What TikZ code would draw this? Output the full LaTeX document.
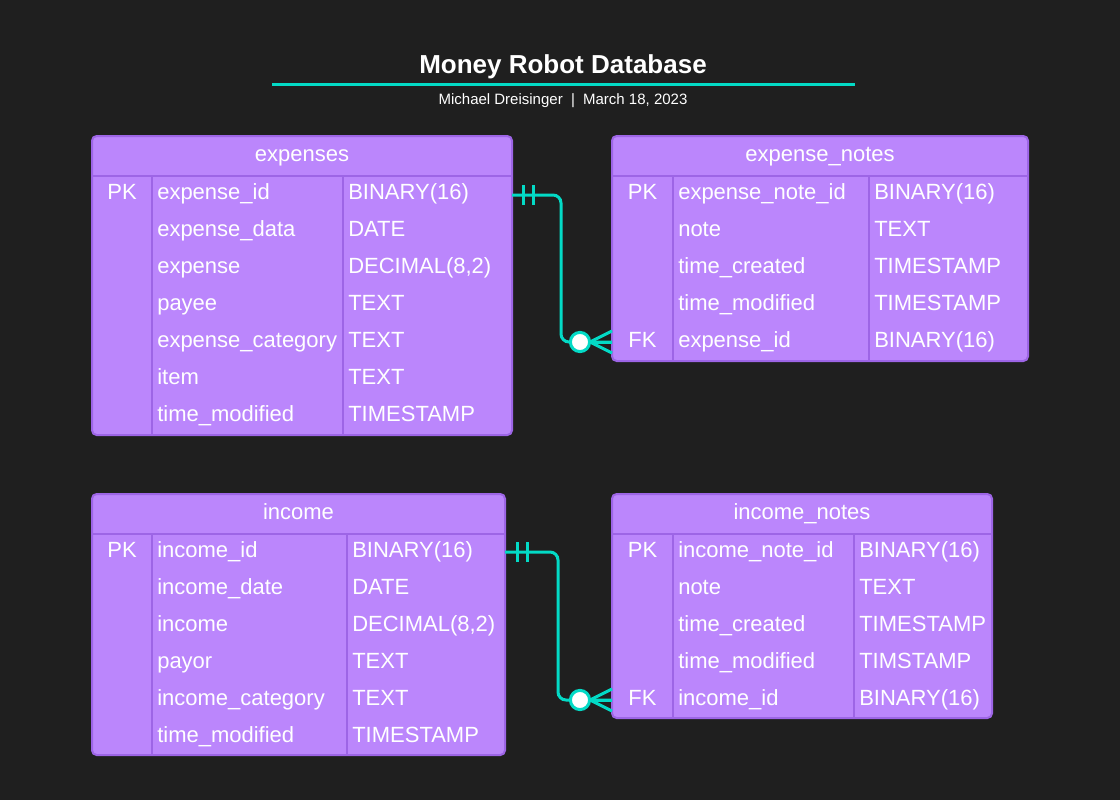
\documentclass[tikz,border=0pt]{standalone}
\usepackage{fontspec}
\setmainfont{Liberation Sans}
\definecolor{bgc}{HTML}{1F1F1F}
\definecolor{tblfill}{HTML}{BB86FC}
\definecolor{tblline}{HTML}{9D65E6}
\definecolor{relc}{HTML}{03DAC6}
\tikzset{
  tbl/.style={draw=tblline, fill=tblfill, line width=1.5pt, rounded corners=3.5pt, inner sep=0pt, outer sep=0pt, anchor=north west},
  inner/.style={draw=tblline, line width=1.5pt},
  hdr/.style={text=white, font=\fontsize{16.5}{19}\selectfont, anchor=base, inner sep=0pt},
  keytxt/.style={text=white, font=\fontsize{16.5}{19}\selectfont, anchor=base, inner sep=0pt},
  celltxt/.style={text=white, font=\fontsize{16.5}{19}\selectfont, anchor=base west, inner sep=0pt},
  rel/.style={draw=relc, line width=2.25pt, rounded corners=6pt},
  relmark/.style={draw=relc, line width=2.25pt},
}
\begin{document}
\begin{tikzpicture}[x=0.75pt, y=-0.75pt]
\useasboundingbox (0,0) rectangle (1120,800);
\fill[bgc] (0,0) rectangle (1120,800);

% title
\node[text=white, font=\bfseries\fontsize{19.5}{22}\selectfont, anchor=base, inner sep=0pt] (title) at (563,73) {Money Robot Database};
\draw[draw=relc, line width=2.25pt] (272,84) coordinate (ul1) -- (855,84) coordinate (ul2);
\node[text=white, font=\fontsize{11.25}{13}\selectfont, anchor=base, inner sep=0pt] (subtitle) at (563,104.5) {Michael Dreisinger\hspace{0.55em}|\hspace{0.55em}March 18, 2023};

% ---------- expenses ----------
\node[tbl, minimum width=315pt, minimum height=224.25pt] (expenses) at (92,136) {};
\draw[inner] (92,176) -- (512,176);
\draw[inner] (152,176) -- (152,435);
\draw[inner] (343,176) -- (343,435);
\node[hdr] (expenses-title) at (302,161) {expenses};
\foreach \k/\n/\t [count=\i from 0] in {PK/expense\_id/BINARY(16), /expense\_data/DATE, {/expense/DECIMAL(8,2)}, /payee/TEXT, /expense\_category/TEXT, /item/TEXT, /time\_modified/TIMESTAMP}{
  \node[keytxt] (expenses-k\i) at (122,{199+37*\i}) {\k};
  \node[celltxt] (expenses-n\i) at (157,{199+37*\i}) {\n};
  \node[celltxt] (expenses-t\i) at (348,{199+37*\i}) {\t};
}

% ---------- expense_notes ----------
\node[tbl, minimum width=312pt, minimum height=168.75pt] (expnotes) at (612,136) {};
\draw[inner] (612,176) -- (1028,176);
\draw[inner] (673,176) -- (673,361);
\draw[inner] (869,176) -- (869,361);
\node[hdr] (expnotes-title) at (820,161) {expense\_notes};
\foreach \k/\n/\t [count=\i from 0] in {PK/expense\_note\_id/BINARY(16), /note/TEXT, /time\_created/TIMESTAMP, /time\_modified/TIMESTAMP, FK/expense\_id/BINARY(16)}{
  \node[keytxt] (expnotes-k\i) at (642.5,{199+37*\i}) {\k};
  \node[celltxt] (expnotes-n\i) at (678,{199+37*\i}) {\n};
  \node[celltxt] (expnotes-t\i) at (874,{199+37*\i}) {\t};
}

% ---------- income ----------
\node[tbl, minimum width=309.75pt, minimum height=195.75pt] (income) at (92,494) {};
\draw[inner] (92,534) -- (505,534);
\draw[inner] (152,534) -- (152,755);
\draw[inner] (347,534) -- (347,755);
\node[hdr] (income-title) at (298.5,519) {income};
\foreach \k/\n/\t [count=\i from 0] in {PK/income\_id/BINARY(16), /income\_date/DATE, {/income/DECIMAL(8,2)}, /payor/TEXT, /income\_category/TEXT, /time\_modified/TIMESTAMP}{
  \node[keytxt] (income-k\i) at (122,{557+37*\i}) {\k};
  \node[celltxt] (income-n\i) at (157,{557+37*\i}) {\n};
  \node[celltxt] (income-t\i) at (352,{557+37*\i}) {\t};
}

% ---------- income_notes ----------
\node[tbl, minimum width=285pt, minimum height=168pt] (incnotes) at (612,494) {};
\draw[inner] (612,534) -- (992,534);
\draw[inner] (673,534) -- (673,718);
\draw[inner] (854,534) -- (854,718);
\node[hdr] (incnotes-title) at (802,519) {income\_notes};
\foreach \k/\n/\t [count=\i from 0] in {PK/income\_note\_id/BINARY(16), /note/TEXT, /time\_created/TIMESTAMP, /time\_modified/TIMSTAMP, FK/income\_id/BINARY(16)}{
  \node[keytxt] (incnotes-k\i) at (642.5,{557+37*\i}) {\k};
  \node[celltxt] (incnotes-n\i) at (678,{557+37*\i}) {\n};
  \node[celltxt] (incnotes-t\i) at (859,{557+37*\i}) {\t};
}

% ---------- relationships ----------
\coordinate (r1a) at (expenses.east |- 0,195);
\coordinate (r1b) at (expnotes.west |- 0,342);
\draw[rel] (r1a) -- (561,195) -- (561,342) -- (r1b);
\draw[relmark] (523,185) -- (523,205);
\draw[relmark] (533,185) -- (533,205);
\draw[relmark] (590,342) -- (r1b);
\draw[relmark] (590,342) -- ([yshift=-8.25pt]r1b);
\draw[relmark] (590,342) -- ([yshift=8.25pt]r1b);
\draw[relmark, fill=white] (580,342) circle (7.2pt);

\coordinate (r2a) at (income.east |- 0,552);
\coordinate (r2b) at (incnotes.west |- 0,700);
\draw[rel] (r2a) -- (558,552) -- (558,700) -- (r2b);
\draw[relmark] (517,542) -- (517,562);
\draw[relmark] (527,542) -- (527,562);
\draw[relmark] (590,700) -- (r2b);
\draw[relmark] (590,700) -- ([yshift=-8.25pt]r2b);
\draw[relmark] (590,700) -- ([yshift=8.25pt]r2b);
\draw[relmark, fill=white] (580,700) circle (7.2pt);
\end{tikzpicture}
\end{document}
